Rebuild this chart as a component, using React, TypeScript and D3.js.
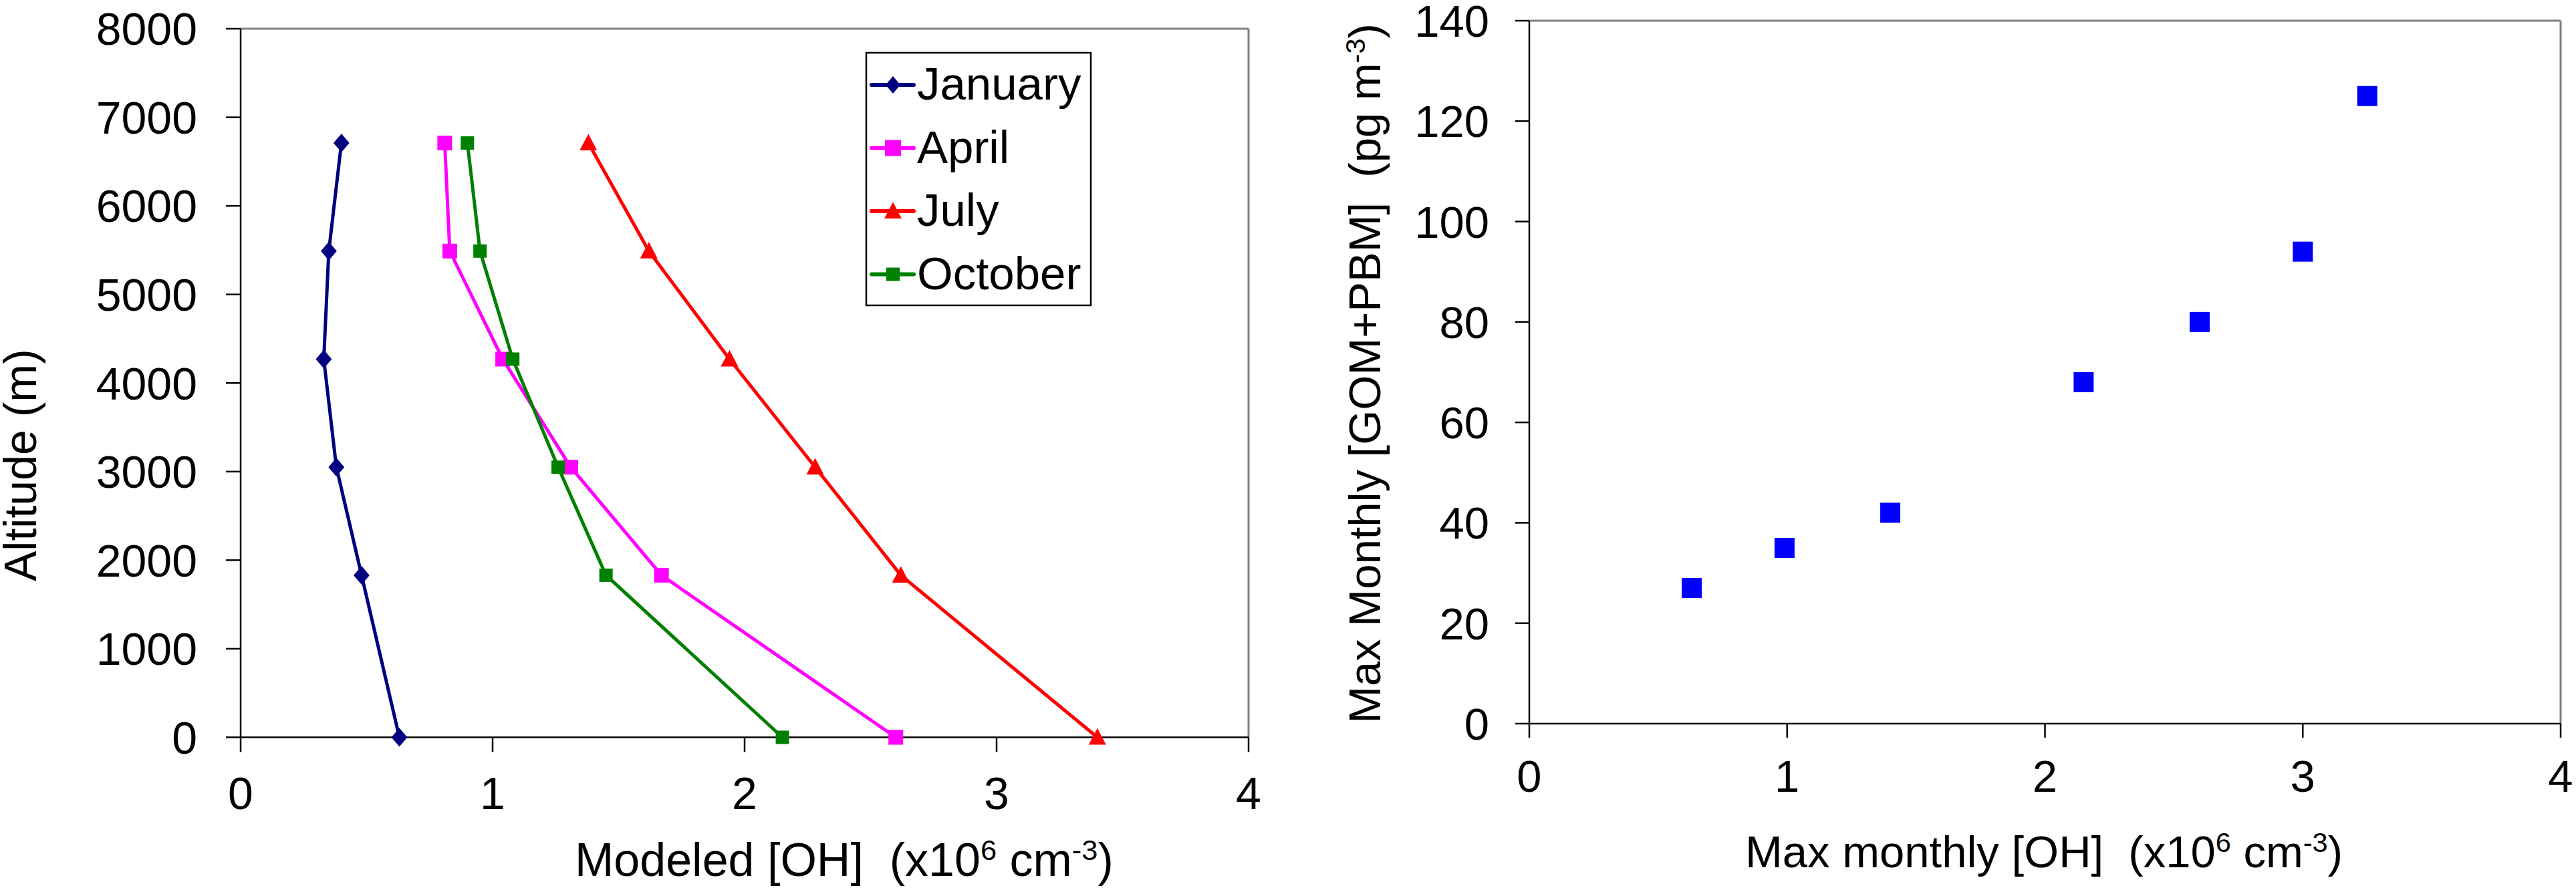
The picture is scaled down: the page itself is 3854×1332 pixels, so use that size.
import * as d3 from "d3";
import React from "react";

// left panel: modeled OH profiles by month
const altitudes = [0, 1830, 3050, 4270, 5490, 6710];
const months = ["January", "April", "July", "October"];
const january = [0.63, 0.48, 0.38, 0.33, 0.35, 0.4];
const april = [2.6, 1.67, 1.31, 1.04, 0.83, 0.81];
const july = [3.4, 2.62, 2.28, 1.94, 1.62, 1.38];
const october = [2.15, 1.45, 1.26, 1.08, 0.95, 0.9];
const altTicks = [0, 1000, 2000, 3000, 4000, 5000, 6000, 7000, 8000];
const ohTicks = [0, 1, 2, 3, 4];

// right panel: max monthly GOM+PBM vs max monthly OH
const ohMax = [0.63, 0.99, 1.4, 2.15, 2.6, 3.0, 3.25];
const hgMax = [27, 35, 42, 68, 80, 94, 125];
const hgTicks = [0, 20, 40, 60, 80, 100, 120, 140];

const FONT = "'Liberation Sans', Arial, Helvetica, sans-serif";

type Shape = "diamond" | "square" | "triangle";

const seriesList: { name: string; values: number[]; color: string; shape: Shape; size: number; legendSize: number }[] = [
  { name: months[0], values: january, color: "#000080", shape: "diamond", size: 28, legendSize: 26 },
  { name: months[1], values: april, color: "#FF00FF", shape: "square", size: 22, legendSize: 24 },
  { name: months[2], values: july, color: "#FF0000", shape: "triangle", size: 26, legendSize: 26 },
  { name: months[3], values: october, color: "#008000", shape: "square", size: 20, legendSize: 20 },
];

const Marker: React.FC<{ x: number; y: number; shape: Shape; size: number; color: string }> = ({ x, y, shape, size, color }) => {
  const h = size / 2;
  if (shape === "square") return <rect x={x - h} y={y - h} width={size} height={size} fill={color} />;
  if (shape === "diamond")
    return <path d={`M${x},${y - h}L${x + h * 0.85},${y}L${x},${y + h}L${x - h * 0.85},${y}Z`} fill={color} />;
  return <path d={`M${x},${y - h * 1.05}L${x + h},${y + h * 0.85}L${x - h},${y + h * 0.85}Z`} fill={color} />;
};

// text made of plain and superscript pieces
type Piece = { t: string; sup?: boolean };

const RichText: React.FC<{ pieces: Piece[]; fs: number }> = ({ pieces, fs }) => {
  const shift = fs * 0.34;
  let raised = false;
  return (
    <>
      {pieces.map((p, i) => {
        let dy = 0;
        if (p.sup && !raised) {
          dy = -shift;
          raised = true;
        } else if (!p.sup && raised) {
          dy = shift;
          raised = false;
        }
        return (
          <tspan key={i} dy={dy || undefined} fontSize={p.sup ? fs * 0.62 : fs}>
            {p.t}
          </tspan>
        );
      })}
    </>
  );
};

const leftTitle: Piece[] = [
  { t: "Modeled [OH]\u00a0\u00a0(x10" },
  { t: "6", sup: true },
  { t: " cm" },
  { t: "-3", sup: true },
  { t: ")" },
];
const rightXTitle: Piece[] = [
  { t: "Max monthly [OH]\u00a0\u00a0(x10" },
  { t: "6", sup: true },
  { t: " cm" },
  { t: "-3", sup: true },
  { t: ")" },
];
const rightYTitle: Piece[] = [
  { t: "Max Monthly [GOM+PBM]\u00a0\u00a0(pg m" },
  { t: "-3", sup: true },
  { t: ")" },
];

export default function App() {
  React.useEffect(() => {
    document.body.style.margin = "0";
  }, []);

  const W = 3854;
  const H = 1332;

  // left panel scales
  const xL = d3.scaleLinear().domain([0, 4]).range([360, 1868]);
  const yL = d3.scaleLinear().domain([0, 8000]).range([1103.5, 43]);
  // right panel scales
  const xR = d3.scaleLinear().domain([0, 4]).range([2288, 3831]);
  const yR = d3.scaleLinear().domain([0, 140]).range([1083, 31]);

  const line = d3
    .line<number>()
    .x((d) => xL(d))
    .y((_, i) => yL(altitudes[i]));

  const fsL = 68;
  const fsR = 67;

  const legendX = 1296;
  const legendY = 79;
  const legendRow = 94.5;

  return (
    <svg width={W} height={H} style={{ display: "block", background: "#fff" }} fontFamily={FONT}>
      <rect width={W} height={H} fill="#fff" />

      {/* ---------- left panel ---------- */}
      <line x1={xL(0)} x2={xL(4)} y1={yL(8000)} y2={yL(8000)} stroke="#808080" strokeWidth={3} />
      <line x1={xL(4)} x2={xL(4)} y1={yL(8000)} y2={yL(0)} stroke="#808080" strokeWidth={3} />
      <line x1={xL(0)} x2={xL(0)} y1={yL(8000)} y2={yL(0)} stroke="#000" strokeWidth={2.5} />
      <line x1={xL(0)} x2={xL(4)} y1={yL(0)} y2={yL(0)} stroke="#000" strokeWidth={2.5} />

      {altTicks.map((t) => (
        <g key={`ya${t}`}>
          <line x1={xL(0) - 22} x2={xL(0)} y1={yL(t)} y2={yL(t)} stroke="#000" strokeWidth={2.5} />
          <text x={295} y={yL(t) + fsL * 0.358} fontSize={fsL} textAnchor="end">
            {t}
          </text>
        </g>
      ))}
      {ohTicks.map((t) => (
        <g key={`xa${t}`}>
          <line x1={xL(t)} x2={xL(t)} y1={yL(0)} y2={yL(0) + 22} stroke="#000" strokeWidth={2.5} />
          <text x={xL(t)} y={1211} fontSize={fsL} textAnchor="middle">
            {t}
          </text>
        </g>
      ))}

      {seriesList.map((s) => (
        <g key={s.name}>
          <path d={line(s.values) ?? ""} fill="none" stroke={s.color} strokeWidth={5} strokeLinejoin="round" />
          {s.values.map((v, i) => (
            <Marker key={i} x={xL(v)} y={yL(altitudes[i])} shape={s.shape} size={s.size} color={s.color} />
          ))}
        </g>
      ))}

      <text x={860} y={1311} fontSize={70}>
        <RichText pieces={leftTitle} fs={70} />
      </text>
      <text transform="translate(54,870) rotate(-90)" fontSize={fsL} textAnchor="start">
        Altitude (m)
      </text>

      {/* legend */}
      <rect x={legendX} y={legendY} width={336} height={378} fill="#fff" stroke="#000" strokeWidth={2.5} />
      {seriesList.map((s, i) => {
        const cy = 127 + i * legendRow;
        return (
          <g key={`lg${s.name}`}>
            <line x1={1304} x2={1367} y1={cy} y2={cy} stroke={s.color} strokeWidth={6} strokeLinecap="round" />
            <Marker x={1336} y={cy} shape={s.shape} size={s.legendSize} color={s.color} />
            <text x={1372} y={cy + 22} fontSize={69}>
              {s.name}
            </text>
          </g>
        );
      })}

      {/* ---------- right panel ---------- */}
      <line x1={xR(0)} x2={xR(4)} y1={yR(140)} y2={yR(140)} stroke="#808080" strokeWidth={3} />
      <line x1={xR(4)} x2={xR(4)} y1={yR(140)} y2={yR(0)} stroke="#808080" strokeWidth={3} />
      <line x1={xR(0)} x2={xR(0)} y1={yR(140)} y2={yR(0)} stroke="#000" strokeWidth={2.5} />
      <line x1={xR(0)} x2={xR(4)} y1={yR(0)} y2={yR(0)} stroke="#000" strokeWidth={2.5} />

      {hgTicks.map((t) => (
        <g key={`yr${t}`}>
          <line x1={xR(0) - 21} x2={xR(0)} y1={yR(t)} y2={yR(t)} stroke="#000" strokeWidth={2.5} />
          <text x={2228} y={yR(t) + fsR * 0.358} fontSize={fsR} textAnchor="end">
            {t}
          </text>
        </g>
      ))}
      {ohTicks.map((t) => (
        <g key={`xr${t}`}>
          <line x1={xR(t)} x2={xR(t)} y1={yR(0)} y2={yR(0) + 21} stroke="#000" strokeWidth={2.5} />
          <text x={xR(t)} y={1185} fontSize={fsR} textAnchor="middle">
            {t}
          </text>
        </g>
      ))}

      {ohMax.map((v, i) => (
        <rect key={`pt${i}`} x={xR(v) - 15} y={yR(hgMax[i]) - 15} width={30} height={30} fill="#0000FF" />
      ))}

      <text x={3058} y={1298} fontSize={fsR} textAnchor="middle">
        <RichText pieces={rightXTitle} fs={fsR} />
      </text>
      <text transform="translate(2065,559) rotate(-90)" fontSize={fsR} textAnchor="middle">
        <RichText pieces={rightYTitle} fs={fsR} />
      </text>
    </svg>
  );
}
